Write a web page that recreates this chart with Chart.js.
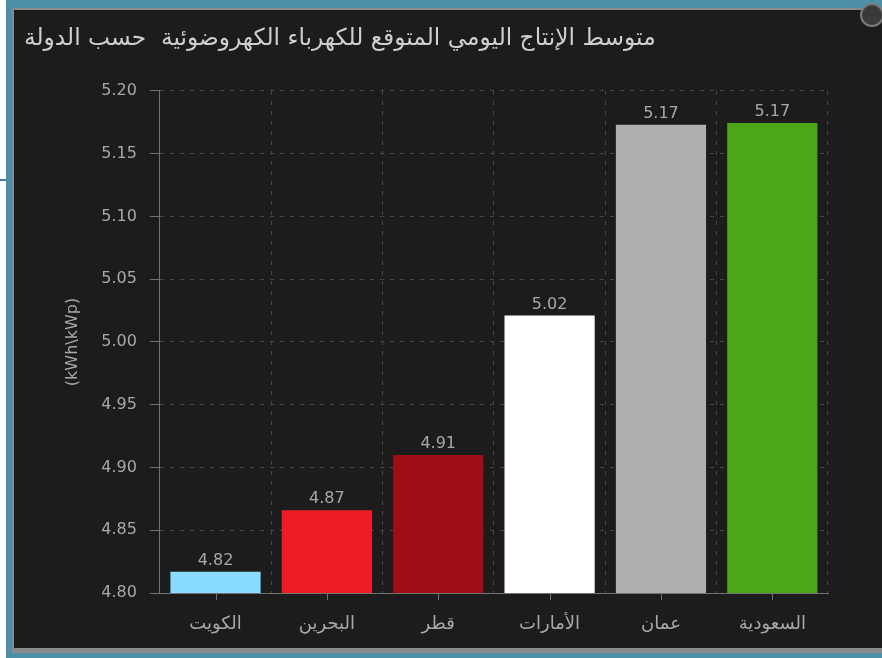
<!DOCTYPE html>
<html lang="ar">
<head>
    <meta charset="UTF-8">
    <title>متوسط الإنتاج اليومي المتوقع للكهرباء الكهروضوئية حسب الدولة</title>
    <script src="https://cdn.jsdelivr.net/npm/chart.js@4.4.1/dist/chart.umd.min.js"></script>
    <style>
        body { margin: 0; background: #ffffff; font-family: "DejaVu Sans", sans-serif; }
        #teal { position: absolute; left: 6px; top: 0; width: 876px; height: 658px; background: #4d8fa6; }
        #edge { position: absolute; left: 12px; top: 8px; width: 870px; height: 645px; background: #8a8a8a; }
        #panel { position: absolute; left: 14px; top: 10px; width: 868px; height: 638px; background: #1c1c1c; }
        #mark { position: absolute; left: 0; top: 179px; width: 6px; height: 2px; background: #4a78a8; }
        #knob { position: absolute; left: 860px; top: 3px; width: 20px; height: 20px; border-radius: 50%;
                border: 2px solid #7a7a7a; background: #3a3a3a; }
    </style>
</head>
<body>
    <div id="teal"></div>
    <div id="edge"></div>
    <div id="panel"><canvas id="chart" width="868" height="638"></canvas></div>
    <div id="mark"></div>
    <div id="knob"></div>

    <script>
        const countries = ['الكويت', 'البحرين', 'قطر', 'الأمارات', 'عمان', 'السعودية'];
        const production = [4.817, 4.866, 4.910, 5.021, 5.173, 5.1744];
        const barColors = ['#8adcff', '#ee1c25', '#9f0e15', '#ffffff', '#afafaf', '#4da518'];
        const yTicks = [4.80, 4.85, 4.90, 4.95, 5.00, 5.05, 5.10, 5.15, 5.20];

        const textColor = '#a8a8a8';
        const gridColor = '#474747';
        const axisColor = '#727272';

        // value labels above each bar
        const valueLabels = {
            id: 'valueLabels',
            afterDatasetsDraw(chart) {
                const ctx = chart.ctx;
                const meta = chart.getDatasetMeta(0);
                ctx.save();
                ctx.font = '16px "DejaVu Sans"';
                ctx.fillStyle = textColor;
                ctx.textAlign = 'center';
                ctx.textBaseline = 'bottom';
                meta.data.forEach((bar, i) => {
                    ctx.fillText(production[i].toFixed(2), bar.x, bar.y - 3);
                });
                ctx.restore();
            }
        };

        // small tick marks under the x axis at the bar centres
        const centreTicks = {
            id: 'centreTicks',
            afterDraw(chart) {
                const ctx = chart.ctx;
                const x = chart.scales.x;
                ctx.save();
                ctx.strokeStyle = axisColor;
                ctx.lineWidth = 1;
                countries.forEach((c, i) => {
                    const px = Math.round(x.getPixelForValue(i)) + 0.5;
                    ctx.beginPath();
                    ctx.moveTo(px, x.top);
                    ctx.lineTo(px, x.top + 7);
                    ctx.stroke();
                });
                ctx.restore();
            }
        };

        new Chart(document.getElementById('chart'), {
            type: 'bar',
            data: {
                labels: countries,
                datasets: [{
                    data: production,
                    backgroundColor: barColors,
                    borderWidth: 0,
                    barPercentage: 0.81,
                    categoryPercentage: 1
                }]
            },
            options: {
                responsive: false,
                animation: false,
                layout: { padding: { left: 10, right: 54, top: 0, bottom: 0 } },
                plugins: {
                    legend: { display: false },
                    tooltip: { enabled: false },
                    title: {
                        display: true,
                        text: 'متوسط الإنتاج اليومي المتوقع للكهرباء الكهروضوئية  حسب الدولة',
                        align: 'start',
                        color: '#cfcfcf',
                        font: { family: 'DejaVu Sans', size: 23.3, weight: 'normal' },
                        padding: { top: 15, bottom: 38 }
                    }
                },
                scales: {
                    x: {
                        afterFit: (axis) => { axis.height = 55; },
                        grid: { color: gridColor, offset: true, drawTicks: false },
                        border: { color: axisColor, dash: [4, 6] },
                        ticks: {
                            color: textColor,
                            padding: 21,
                            font: { family: 'DejaVu Sans', size: 18 }
                        }
                    },
                    y: {
                        min: 4.80,
                        max: 5.20,
                        afterBuildTicks: (axis) => { axis.ticks = yTicks.map(v => ({ value: v })); },
                        grid: { color: gridColor, tickColor: axisColor, tickLength: 10, tickBorderDash: [] },
                        border: { color: axisColor, dash: [4, 6] },
                        ticks: {
                            color: textColor,
                            padding: 13,
                            font: { family: 'DejaVu Sans', size: 16 },
                            callback: (v) => Number(v).toFixed(2)
                        },
                        title: {
                            display: true,
                            text: '(kWh\\kWp)',
                            color: textColor,
                            font: { family: 'DejaVu Sans', size: 16 },
                            padding: { top: 39, bottom: 6 }
                        }
                    }
                }
            },
            plugins: [valueLabels, centreTicks]
        });
    </script>
</body>
</html>
